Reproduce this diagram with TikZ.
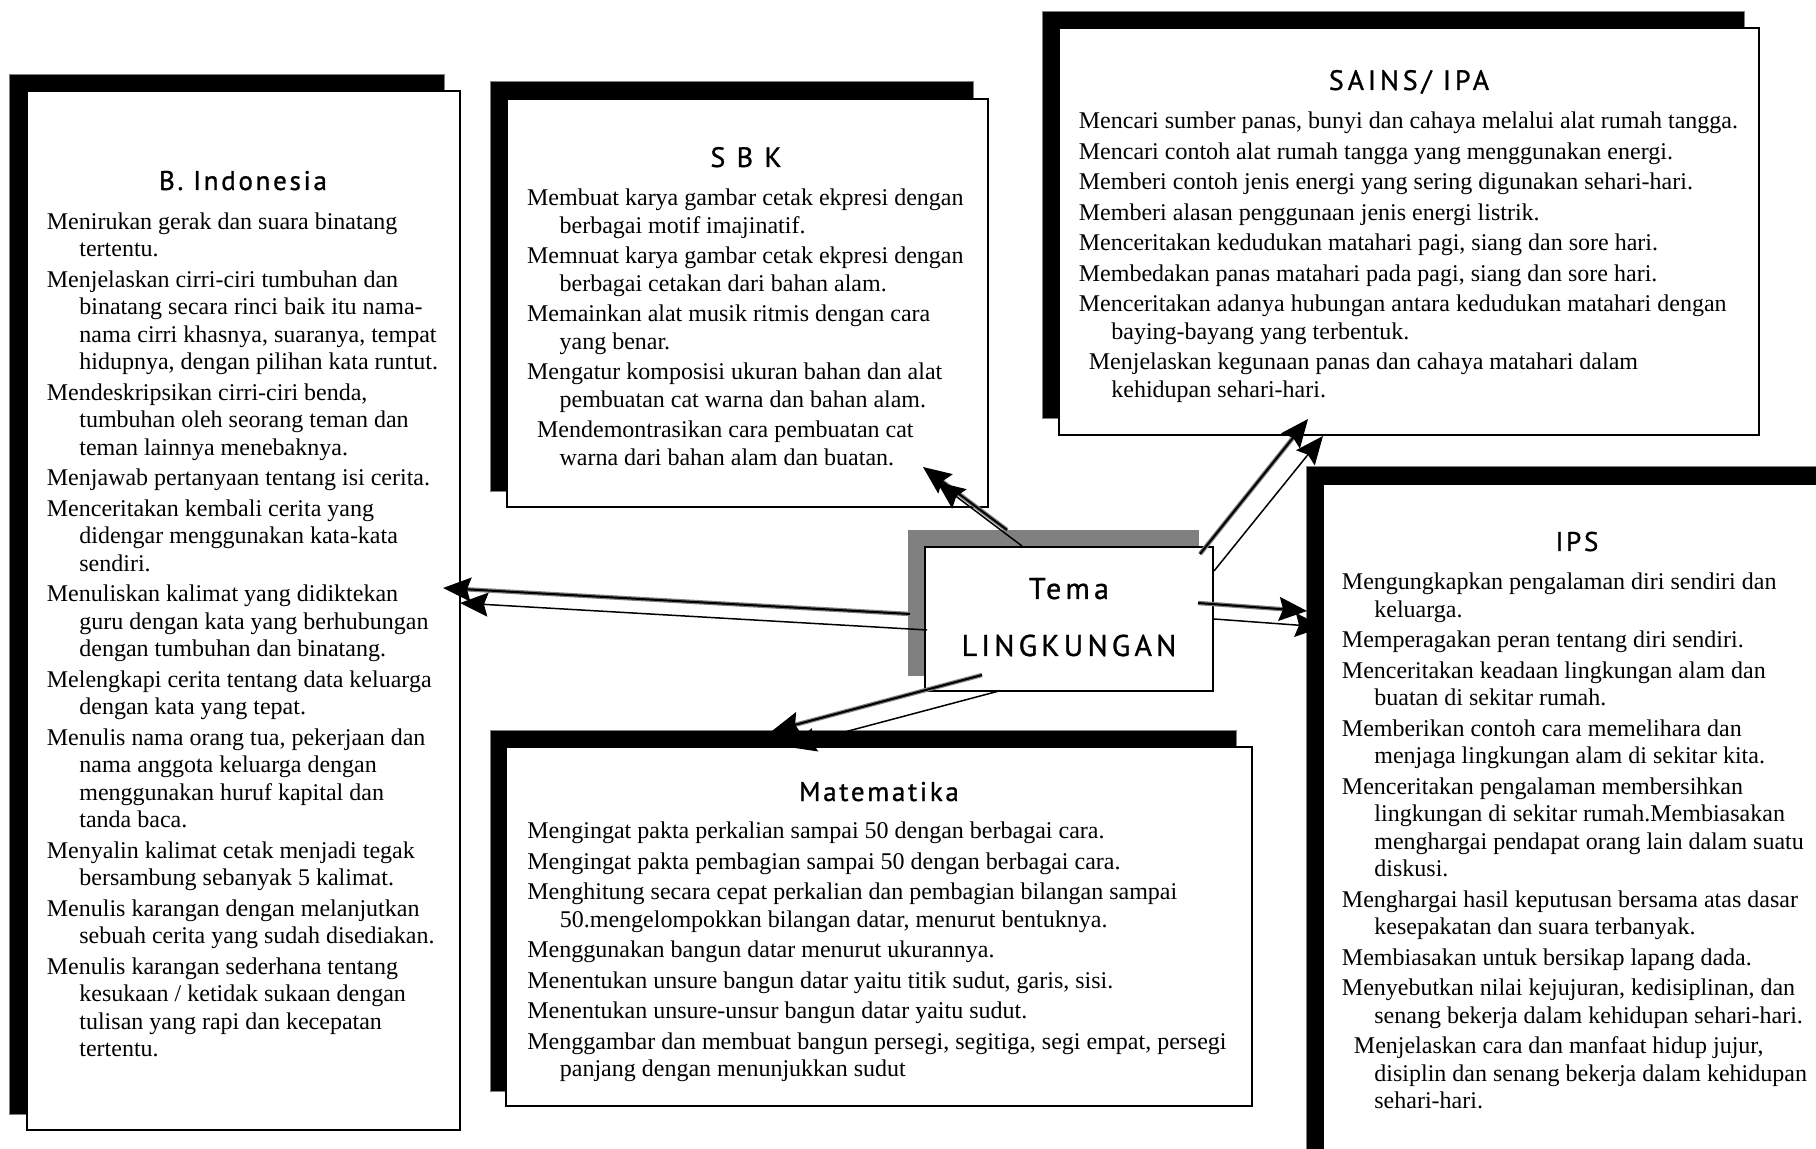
\documentclass[tikz,border=0pt]{standalone}
\usepackage{fontspec}
\setmainfont{Liberation Serif}
\newfontfamily\hand[LetterSpace=10,FakeBold=1]{PT Sans}
\newfontfamily\handwide[LetterSpace=14,FakeBold=1]{PT Sans}
\usetikzlibrary{arrows.meta,fit}
\newcommand\hgap{\hspace*{16.25pt}}
\begin{document}
\begin{tikzpicture}[x=0.5pt,y=-0.5pt,
  shadowbox/.style={fill=black,draw=gray,line width=0.5pt,inner sep=0pt},
  greybox/.style={fill=gray,draw=none,inner sep=0pt},
  whitebox/.style={fill=white,draw=black,line width=1pt,inner sep=0pt},
  body/.style={anchor=north west,inner sep=0pt,align=left,font=\fontsize{12pt}{13.75pt}\selectfont},
  title/.style={anchor=base,inner sep=0pt,font=\hand\fontsize{13.5pt}{15pt}\selectfont},
  bigtitle/.style={anchor=base,inner sep=0pt,font=\handwide\fontsize{15pt}{17pt}\selectfont},
  link/.style={line width=0.75pt,-{Stealth[length=14pt,width=12pt,inset=2pt]}},
  linkshadow/.style={line width=1pt,-{Stealth[length=14pt,width=12pt,inset=2pt]},
    preaction={draw=gray,line width=2.2pt,-,shorten >=10pt}}
]
\clip (0,0) rectangle (1816,1149);
\fill[white] (0,0) rectangle (1816,1149);

% ---------- boxes ----------
\node[shadowbox,fit={(9,75) (444,1114)}] (biS) {};
\node[whitebox,fit={(27,91) (460,1130)}] (bi) {};

\node[shadowbox,fit={(490,82) (973,492)}] (sbkS) {};
\node[whitebox,fit={(507,99) (988,507)}] (sbk) {};

\node[shadowbox,fit={(1042,12) (1744,419)}] (ipaS) {};
\node[whitebox,fit={(1059,28) (1759,435)}] (ipa) {};

\node[greybox,fit={(908,530) (1199,676)}] (temaS) {};
\node[whitebox,fit={(925,547) (1213,691)}] (tema) {};

\node[shadowbox,fit={(490,731) (1236,1091)}] (mtkS) {};
\node[whitebox,fit={(506,747) (1252,1106)}] (mtk) {};

\node[shadowbox,fit={(1306,467) (1850,1180)}] (ipsS) {};
\node[whitebox,fit={(1323,484) (1870,1200)}] (ips) {};

% ---------- titles ----------
\node[title] (biT) at (243,190) {B. Indonesia};
\node[title,font=\handwide\fontsize{14pt}{16pt}\selectfont] (sbkT) at (746,167) {S B K};
\node[title,font=\handwide\fontsize{14pt}{16pt}\selectfont] (ipaT) at (1409,90) {SAINS/ IPA};
\node[bigtitle] (temaT1) at (1069,599) {Tema};
\node[bigtitle] (temaT2) at (1069,656) {LINGKUNGAN};
\node[title] (mtkT) at (879,801) {Matematika};
\node[title] (ipsT) at (1577,551) {IPS};

% ---------- body texts ----------
\node[body] (biX) at (46.5,209.5) {\strut Menirukan gerak dan suara binatang\\
\hgap tertentu.\\[1.5pt]
Menjelaskan cirri-ciri tumbuhan dan\\
\hgap binatang secara rinci baik itu nama-\\
\hgap nama cirri khasnya, suaranya, tempat\\
\hgap hidupnya, dengan pilihan kata runtut.\\[1.5pt]
Mendeskripsikan cirri-ciri benda,\\
\hgap tumbuhan oleh seorang teman dan\\
\hgap teman lainnya menebaknya.\\[1.5pt]
Menjawab pertanyaan tentang isi cerita.\\[1.5pt]
Menceritakan kembali cerita yang\\
\hgap didengar menggunakan kata-kata\\
\hgap sendiri.\\[1.5pt]
Menuliskan kalimat yang didiktekan\\
\hgap guru dengan kata yang berhubungan\\
\hgap dengan tumbuhan dan binatang.\\[1.5pt]
Melengkapi cerita tentang data keluarga\\
\hgap dengan kata yang tepat.\\[1.5pt]
Menulis nama orang tua, pekerjaan dan\\
\hgap nama anggota keluarga dengan\\
\hgap menggunakan huruf kapital dan\\
\hgap tanda baca.\\[1.5pt]
Menyalin kalimat cetak menjadi tegak\\
\hgap bersambung sebanyak 5 kalimat.\\[1.5pt]
Menulis karangan dengan melanjutkan\\
\hgap sebuah cerita yang sudah disediakan.\\[1.5pt]
Menulis karangan sederhana tentang\\
\hgap kesukaan / ketidak sukaan dengan\\
\hgap tulisan yang rapi dan kecepatan\\
\hgap tertentu.};

\node[body] (sbkX) at (526.7,186) {\strut Membuat karya gambar cetak ekpresi dengan\\
\hgap berbagai motif imajinatif.\\[1.5pt]
Memnuat karya gambar cetak ekpresi dengan\\
\hgap berbagai cetakan dari bahan alam.\\[1.5pt]
Memainkan alat musik ritmis dengan cara\\
\hgap yang benar.\\[1.5pt]
Mengatur komposisi ukuran bahan dan alat\\
\hgap pembuatan cat warna dan bahan alam.\\[1.5pt]
\hspace*{5pt}Mendemontrasikan cara pembuatan cat\\
\hgap warna dari bahan alam dan buatan.};

\node[body] (ipaX) at (1078.5,109) {\strut Mencari sumber panas, bunyi dan cahaya melalui alat rumah tangga.\\[1.5pt]
Mencari contoh alat rumah tangga yang menggunakan energi.\\[1.5pt]
Memberi contoh jenis energi yang sering digunakan sehari-hari.\\[1.5pt]
Memberi alasan penggunaan jenis energi listrik.\\[1.5pt]
Menceritakan kedudukan matahari pagi, siang dan sore hari.\\[1.5pt]
Membedakan panas matahari pada pagi, siang dan sore hari.\\[1.5pt]
Menceritakan adanya hubungan antara kedudukan matahari dengan\\
\hgap baying-bayang yang terbentuk.\\[1.5pt]
\hspace*{5pt}Menjelaskan kegunaan panas dan cahaya matahari dalam\\
\hgap kehidupan sehari-hari.};

\node[body] (mtkX) at (527,819) {\strut Mengingat pakta perkalian sampai 50 dengan berbagai cara.\\[1.5pt]
Mengingat pakta pembagian sampai 50 dengan berbagai cara.\\[1.5pt]
Menghitung secara cepat perkalian dan pembagian bilangan sampai\\
\hgap 50.mengelompokkan bilangan datar, menurut bentuknya.\\[1.5pt]
Menggunakan bangun datar menurut ukurannya.\\[1.5pt]
Menentukan unsure bangun datar yaitu titik sudut, garis, sisi.\\[1.5pt]
Menentukan unsure-unsur bangun datar yaitu sudut.\\[1.5pt]
Menggambar dan membuat bangun persegi, segitiga, segi empat, persegi\\
\hgap panjang dengan menunjukkan sudut};

\node[body] (ipsX) at (1341.5,570) {\strut Mengungkapkan pengalaman diri sendiri dan\\
\hgap keluarga.\\[1.5pt]
Memperagakan peran tentang diri sendiri.\\[1.5pt]
Menceritakan keadaan lingkungan alam dan\\
\hgap buatan di sekitar rumah.\\[1.5pt]
Memberikan contoh cara memelihara dan\\
\hgap menjaga lingkungan alam di sekitar kita.\\[1.5pt]
Menceritakan pengalaman membersihkan\\
\hgap lingkungan di sekitar rumah.Membiasakan\\
\hgap menghargai pendapat orang lain dalam suatu\\
\hgap diskusi.\\[1.5pt]
Menghargai hasil keputusan bersama atas dasar\\
\hgap kesepakatan dan suara terbanyak.\\[1.5pt]
Membiasakan untuk bersikap lapang dada.\\[1.5pt]
Menyebutkan nilai kejujuran, kedisiplinan, dan\\
\hgap senang bekerja dalam kehidupan sehari-hari.\\[1.5pt]
\hspace*{6pt}Menjelaskan cara dan manfaat hidup jujur,\\
\hgap disiplin dan senang bekerja dalam kehidupan\\
\hgap sehari-hari.};

% ---------- connector end points ----------
\coordinate (aBiM) at (927,630);  \coordinate (tBiM) at (460,603);
\coordinate (aBiS) at (910,614);  \coordinate (tBiS) at (443,588);
\coordinate (aSbM) at (1022,546); \coordinate (tSbM) at (937,482);
\coordinate (aSbS) at (1007,530); \coordinate (tSbS) at (923,467);
\coordinate (aIpM) at (1214,571); \coordinate (tIpM) at (1323,436);
\coordinate (aIpS) at (1200,554); \coordinate (tIpS) at (1308,419);
\coordinate (aIsM) at (1214,619); \coordinate (tIsM) at (1323,627);
\coordinate (aIsS) at (1198,603); \coordinate (tIsS) at (1307,611);
\coordinate (aMtM) at (999,691);  \coordinate (tMtM) at (788,747);
\coordinate (aMtS) at (982,675);  \coordinate (tMtS) at (772,731);

% ---------- connectors ----------
\draw[linkshadow] (aBiS) -- (tBiS);
\draw[link] (aBiM) -- (tBiM);
\draw[linkshadow] (aSbS) -- (tSbS);
\draw[link] (aSbM) -- (tSbM);
\draw[linkshadow] (aIpS) -- (tIpS);
\draw[link] (aIpM) -- (tIpM);
\draw[linkshadow] (aIsS) -- (tIsS);
\draw[link] (aIsM) -- (tIsM);
\draw[linkshadow] (aMtS) -- (tMtS);
\draw[link] (aMtM) -- (tMtM);
\end{tikzpicture}
\end{document}
